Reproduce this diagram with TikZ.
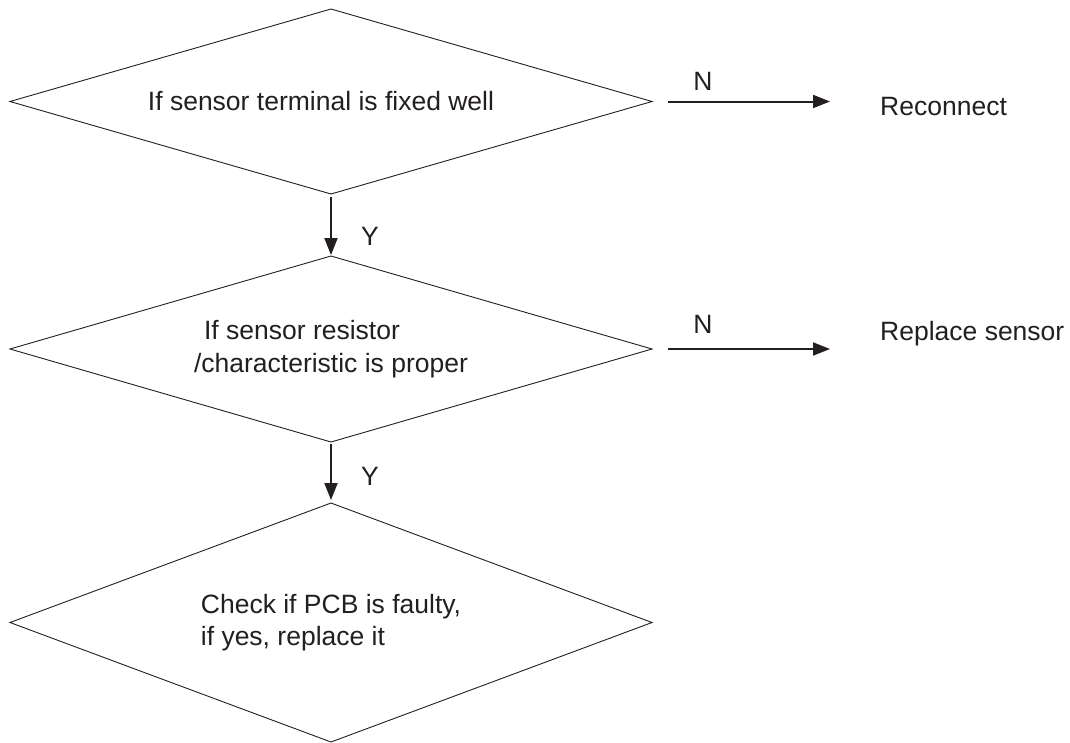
\documentclass[tikz,border=0pt]{standalone}
\usepackage{fontspec}
\setmainfont{Liberation Sans}
\usepackage{tikz}
\usetikzlibrary{arrows.meta,shapes.geometric}
\definecolor{ink}{RGB}{35,31,32}

\begin{document}
\begin{tikzpicture}[x=1pt,y=-1pt,color=ink,
  dec/.style={draw,diamond,shape aspect=3,inner sep=0pt,outer sep=0pt,minimum width=642pt,line width=0.9pt,font=\fontsize{26.5}{32.5}\selectfont},
  lbl/.style={inner sep=0pt,font=\fontsize{26.5}{32.5}\selectfont},
  flow/.style={line width=2pt,-{Triangle[length=17pt,width=13pt]}}]
  \useasboundingbox (0,0) rectangle (1070,742);
  \node[dec,minimum height=185pt] (chkfix) at (331,101.5) {If sensor terminal is fixed well\hspace*{20pt}};
  \node[dec,minimum height=186pt,align=left] (chkres) at (331,349) {\hspace*{10pt}If sensor resistor\\/characteristic is proper};
  \node[dec,minimum height=239pt,align=left] (chkpcb) at (331,622.5) {Check if PCB is faulty,\\if yes, replace it};
  \node[lbl,anchor=base west] (recon) at (880,115) {Reconnect};
  \node[lbl,anchor=base west] (repl) at (880,340) {Replace sensor};
  % yes branches
  \draw[flow,shorten <=3pt,shorten >=1pt] (chkfix.south) -- (chkres.north);
  \draw[flow,shorten <=2pt,shorten >=3pt] (chkres.south) -- (chkpcb.north);
  \node[lbl,anchor=base] (y1) at (370,245) {Y};
  \node[lbl,anchor=base] (y2) at (370,485) {Y};
  % no branches
  \draw[flow,shorten <=16pt,shorten >=50pt] (chkfix.east) -- (chkfix.east -| recon.west);
  \draw[flow,shorten <=16pt,shorten >=50pt] (chkres.east) -- (chkres.east -| repl.west);
  \node[lbl,anchor=base] (n1) at (703,90) {N};
  \node[lbl,anchor=base] (n2) at (703,333) {N};
\end{tikzpicture}
\end{document}
